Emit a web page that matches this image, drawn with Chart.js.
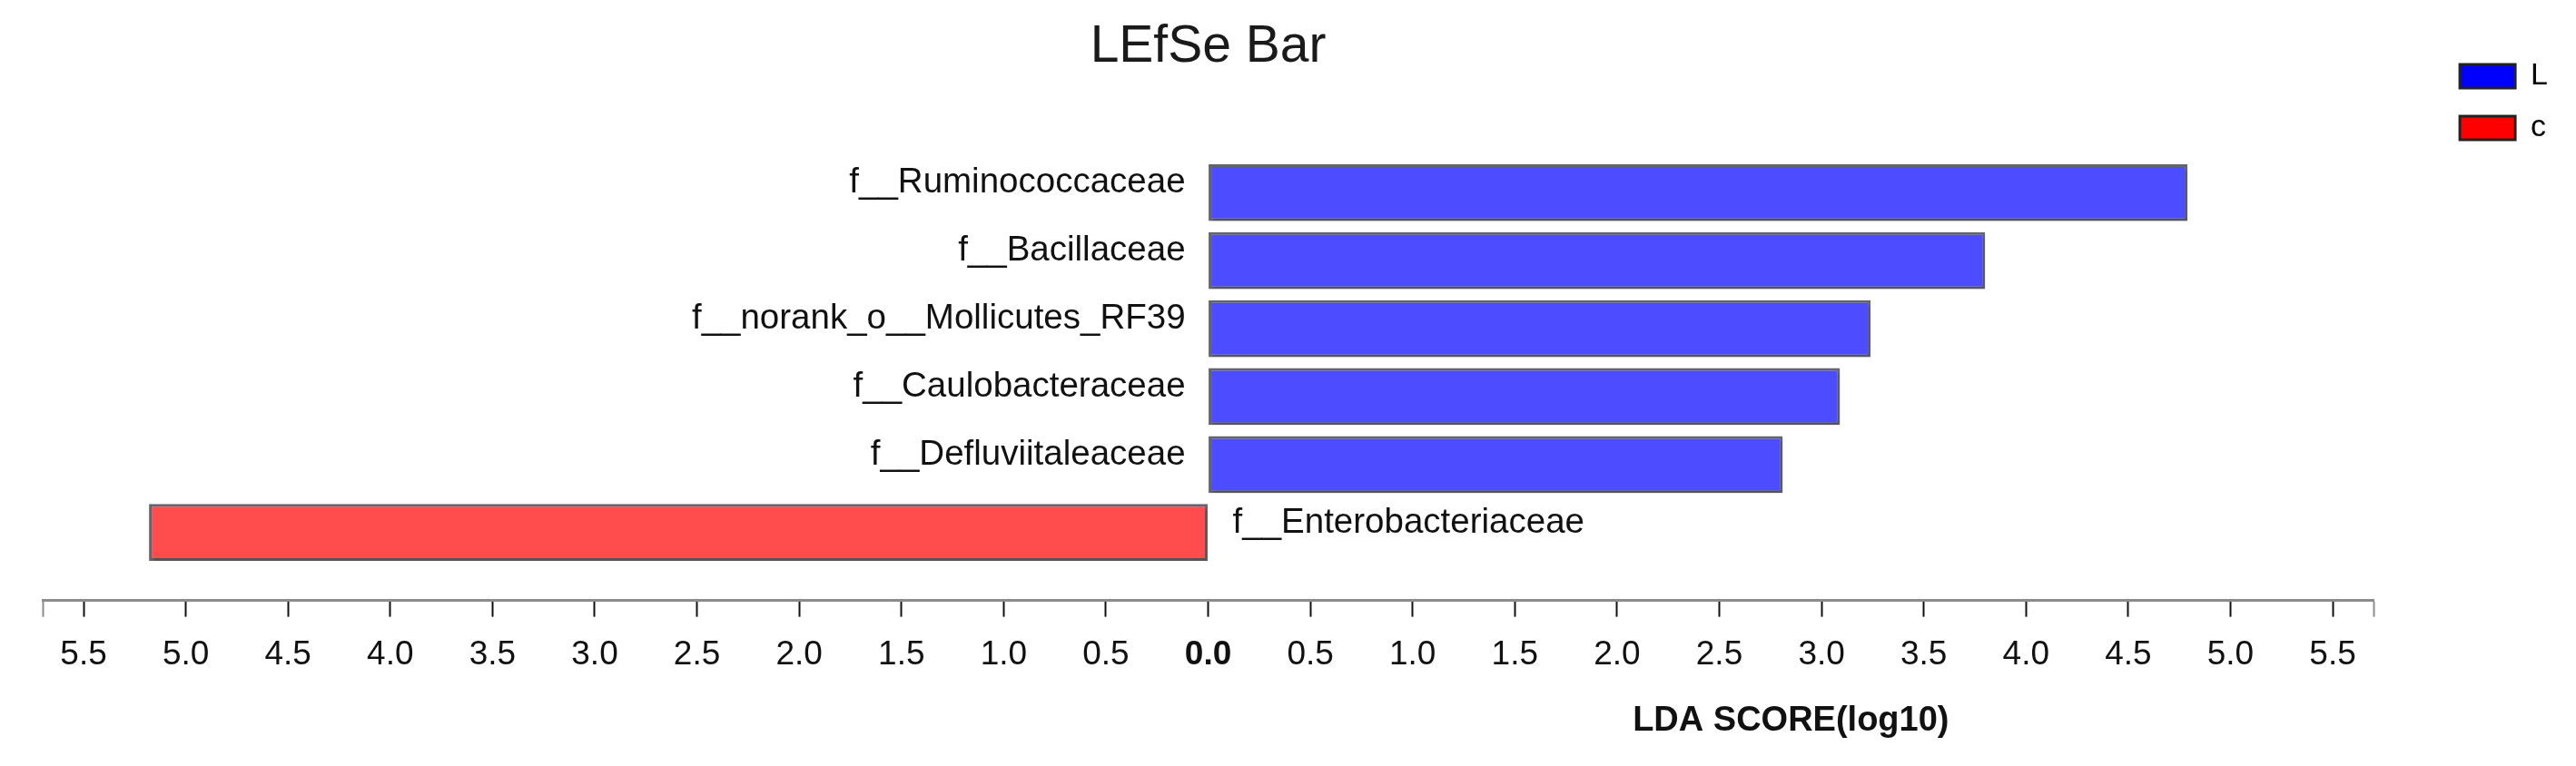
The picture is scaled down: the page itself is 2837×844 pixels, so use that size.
<!DOCTYPE html>
<html>
<head>
<meta charset="utf-8">
<title>LEfSe Bar</title>
<script src="https://cdn.jsdelivr.net/npm/chart.js@4.4.1/dist/chart.umd.min.js"></script>
<style>
  html, body { margin: 0; padding: 0; background: #fff; }
  #wrap { width: 2837px; height: 844px; }
</style>
</head>
<body>
<div id="wrap"><canvas id="lefse"></canvas></div>
<script>
// taxa from top to bottom
const taxa = ['f__Ruminococcaceae', 'f__Bacillaceae', 'f__norank_o__Mollicutes_RF39',
              'f__Caulobacteraceae', 'f__Defluviitaleaceae', 'f__Enterobacteriaceae'];
const taxonGroup = ['L', 'L', 'L', 'L', 'L', 'c'];
const ldaScore = [4.79, 3.80, 3.24, 3.09, 2.81, 5.18];
const groups = ['L', 'c'];
const groupSign = [1, -1]; // group c is drawn left of zero
const tickValues = [-5.5, -5.0, -4.5, -4.0, -3.5, -3.0, -2.5, -2.0, -1.5, -1.0, -0.5, 0.0,
                    0.5, 1.0, 1.5, 2.0, 2.5, 3.0, 3.5, 4.0, 4.5, 5.0, 5.5];
const axisTitle = 'LDA SCORE(log10)';

const FONT = '"Liberation Sans", Arial, sans-serif';
const barColors = ['#4d4dff', '#ff4d4d'];
const legendColors = ['#0000ff', '#ff0000'];
Chart.defaults.font.family = FONT;

const datasets = groups.map((g, k) => ({
    label: g,
    data: taxa.map((t, i) => ({x: groupSign[k] * ldaScore[i], y: i}))
              .filter((d, i) => taxonGroup[i] === g),
    backgroundColor: barColors[k],
    borderColor: '#64646e',
    borderWidth: 3,
    borderSkipped: false,
    grouped: false,
    categoryPercentage: 1,
    barPercentage: 0.93
}));

// bar names next to the zero line + axis title over the positive half
const lefseLabels = {
    id: 'lefseLabels',
    beforeDatasetsDraw(chart) {
        const ctx = chart.ctx;
        ctx.save();
        ctx.shadowColor = 'rgba(0,0,0,0.18)';
        ctx.shadowOffsetX = 2;
        ctx.shadowOffsetY = 3;
        ctx.shadowBlur = 2;
    },
    afterDatasetsDraw(chart) {
        const ctx = chart.ctx;
        ctx.restore();
        const xs = chart.scales.x;
        const zero = xs.getPixelForValue(0);
        ctx.save();
        ctx.font = '38.5px ' + FONT;
        ctx.fillStyle = '#111';
        ctx.textBaseline = 'alphabetic';
        chart.data.datasets.forEach((ds, k) => {
            chart.getDatasetMeta(k).data.forEach((bar, j) => {
                const pt = ds.data[j];
                const neg = pt.x < 0;
                ctx.textAlign = neg ? 'left' : 'right';
                ctx.fillText(taxa[pt.y], neg ? zero + 27 : zero - 25, bar.y);
            });
        });
        ctx.font = 'bold 38px ' + FONT;
        ctx.textAlign = 'center';
        ctx.fillText(axisTitle, (zero + xs.right) / 2, xs.bottom + 41);
        ctx.restore();
    }
};

new Chart(document.getElementById('lefse'), {
    type: 'bar',
    data: {datasets},
    plugins: [lefseLabels],
    options: {
        indexAxis: 'y',
        responsive: true,
        maintainAspectRatio: false,
        animation: false,
        layout: {padding: {left: 47, right: 21, top: 44, bottom: 80}},
        scales: {
            x: {
                type: 'linear',
                min: -5.7,
                max: 5.7,
                afterBuildTicks: s => {
                    s.ticks = [s.min, ...tickValues, s.max].map(v => ({value: v}));
                },
                grid: {
                    display: true,
                    drawOnChartArea: false,
                    drawTicks: true,
                    tickLength: 18,
                    tickWidth: 2,
                    tickColor: c => (c.tick && Math.abs(c.tick.value) > 5.6) ? '#8c8c8c' : '#111'
                },
                border: {display: true, color: '#8c8c8c', width: 3},
                ticks: {
                    autoSkip: false,
                    maxRotation: 0,
                    minRotation: 0,
                    padding: 20,
                    color: '#111',
                    font: c => ({family: FONT, size: 37,
                                 weight: (c.tick && c.tick.value === 0) ? 'bold' : 'normal'}),
                    callback: v => tickValues.includes(v) ? Math.abs(v).toFixed(1) : ''
                }
            },
            y: {type: 'linear', reverse: true, offset: false, min: -1.9, max: 6, display: false},
            // empty spacer between the plot and the legend
            yR: {
                type: 'linear', position: 'right', min: 0, max: 1,
                grid: {display: false}, border: {display: false}, ticks: {display: false},
                afterFit: s => { s.width = 72; }
            }
        },
        plugins: {
            title: {
                display: true,
                text: 'LEfSe Bar',
                fullSize: false,
                color: '#1a1a1a',
                font: {family: FONT, size: 57, weight: 'normal', lineHeight: 0.28},
                padding: {top: 0, bottom: 10}
            },
            legend: {
                position: 'right',
                align: 'start',
                labels: {
                    boxWidth: 61,
                    boxHeight: 26,
                    padding: 23,
                    color: '#555',
                    font: {family: FONT, size: 34},
                    generateLabels: chart => chart.data.datasets.map((d, k) => ({
                        text: d.label,
                        fillStyle: legendColors[k],
                        strokeStyle: '#222',
                        lineWidth: 3,
                        hidden: false,
                        datasetIndex: k
                    }))
                }
            },
            tooltip: {enabled: false}
        }
    }
});
</script>
</body>
</html>
